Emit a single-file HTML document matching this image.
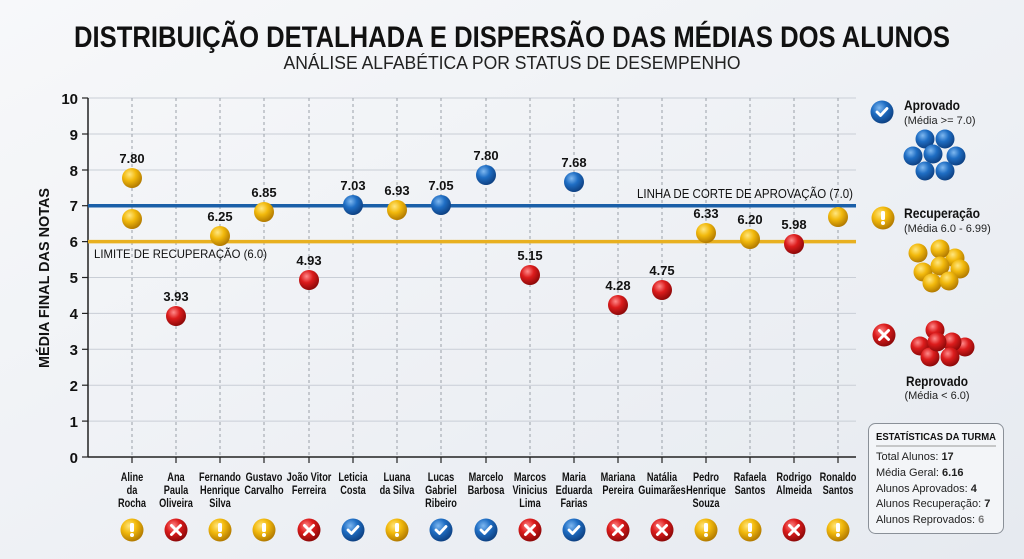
<!DOCTYPE html>
<html><head><meta charset="utf-8"><style>
html,body{margin:0;padding:0;width:1024px;height:559px;overflow:hidden;background:#eef1f5}
svg{display:block}
text{font-family:"Liberation Sans",sans-serif}
</style></head><body>
<svg width="1024" height="559" viewBox="0 0 1024 559" xmlns="http://www.w3.org/2000/svg">
<defs>
<linearGradient id="bg" x1="0" y1="0" x2="1" y2="1"><stop offset="0" stop-color="#f7f8fa"/><stop offset="1" stop-color="#e6eaf0"/></linearGradient>
<radialGradient id="gy" cx="0.38" cy="0.32" r="0.7"><stop offset="0" stop-color="#ffe680"/><stop offset="0.45" stop-color="#f2b90c"/><stop offset="1" stop-color="#b07800"/></radialGradient>
<radialGradient id="gb" cx="0.38" cy="0.32" r="0.7"><stop offset="0" stop-color="#7fb8f0"/><stop offset="0.45" stop-color="#1f6ec4"/><stop offset="1" stop-color="#0d3f80"/></radialGradient>
<radialGradient id="gr" cx="0.38" cy="0.32" r="0.7"><stop offset="0" stop-color="#ff8a8a"/><stop offset="0.45" stop-color="#dc1c1c"/><stop offset="1" stop-color="#8a0808"/></radialGradient>
<g id="iy"><circle r="11.5" fill="url(#gy)"/><rect x="-2" y="-7" width="4" height="9" rx="1.5" fill="#fff"/><circle cy="5" r="2" fill="#fff"/></g>
<g id="ir"><circle r="11.5" fill="url(#gr)"/><path d="M-4.5 -4.5L4.5 4.5M4.5 -4.5L-4.5 4.5" stroke="#fff" stroke-width="3" stroke-linecap="round"/></g>
<g id="ib"><circle r="11.5" fill="url(#gb)"/><path d="M-5 0L-1.5 3.5L5 -3.5" stroke="#fff" stroke-width="2.8" fill="none" stroke-linecap="round" stroke-linejoin="round"/></g>
</defs>
<rect width="1024" height="559" fill="url(#bg)"/>
<text x="512" y="47" text-anchor="middle" font-size="30" font-weight="bold" fill="#111" textLength="876" lengthAdjust="spacingAndGlyphs">DISTRIBUIÇÃO DETALHADA E DISPERSÃO DAS MÉDIAS DOS ALUNOS</text>
<text x="512" y="69" text-anchor="middle" font-size="18" fill="#222" textLength="457" lengthAdjust="spacingAndGlyphs">ANÁLISE ALFABÉTICA POR STATUS DE DESEMPENHO</text>
<g stroke="#c9ced6" stroke-width="1">
<line x1="88" x2="856" y1="98" y2="98"/><line x1="88" x2="856" y1="134" y2="134"/><line x1="88" x2="856" y1="170" y2="170"/><line x1="88" x2="856" y1="205.7" y2="205.7"/><line x1="88" x2="856" y1="241.6" y2="241.6"/><line x1="88" x2="856" y1="277.5" y2="277.5"/><line x1="88" x2="856" y1="313.4" y2="313.4"/><line x1="88" x2="856" y1="349.3" y2="349.3"/><line x1="88" x2="856" y1="385.2" y2="385.2"/><line x1="88" x2="856" y1="421.1" y2="421.1"/>
</g>
<g stroke="#9aa0a8" stroke-width="1" stroke-dasharray="3,3">
<line x1="132" x2="132" y1="98" y2="457"/><line x1="176" x2="176" y1="98" y2="457"/><line x1="220" x2="220" y1="98" y2="457"/><line x1="264" x2="264" y1="98" y2="457"/><line x1="309" x2="309" y1="98" y2="457"/><line x1="353" x2="353" y1="98" y2="457"/><line x1="397" x2="397" y1="98" y2="457"/><line x1="441" x2="441" y1="98" y2="457"/><line x1="486" x2="486" y1="98" y2="457"/><line x1="530" x2="530" y1="98" y2="457"/><line x1="574" x2="574" y1="98" y2="457"/><line x1="618" x2="618" y1="98" y2="457"/><line x1="662" x2="662" y1="98" y2="457"/><line x1="706" x2="706" y1="98" y2="457"/><line x1="750" x2="750" y1="98" y2="457"/><line x1="794" x2="794" y1="98" y2="457"/><line x1="838" x2="838" y1="98" y2="457"/>
</g>
<g stroke="#222" stroke-width="1.5">
<line x1="88" y1="98" x2="88" y2="457"/><line x1="88" y1="457" x2="856" y2="457"/>
</g>
<g stroke="#222" stroke-width="1.2">
<line x1="82" x2="88" y1="98" y2="98"/><line x1="82" x2="88" y1="134" y2="134"/><line x1="82" x2="88" y1="170" y2="170"/><line x1="82" x2="88" y1="205.7" y2="205.7"/><line x1="82" x2="88" y1="241.6" y2="241.6"/><line x1="82" x2="88" y1="277.5" y2="277.5"/><line x1="82" x2="88" y1="313.4" y2="313.4"/><line x1="82" x2="88" y1="349.3" y2="349.3"/><line x1="82" x2="88" y1="385.2" y2="385.2"/><line x1="82" x2="88" y1="421.1" y2="421.1"/><line x1="82" x2="88" y1="457" y2="457"/>
<line x1="132" x2="132" y1="457" y2="463"/><line x1="176" x2="176" y1="457" y2="463"/><line x1="220" x2="220" y1="457" y2="463"/><line x1="264" x2="264" y1="457" y2="463"/><line x1="309" x2="309" y1="457" y2="463"/><line x1="353" x2="353" y1="457" y2="463"/><line x1="397" x2="397" y1="457" y2="463"/><line x1="441" x2="441" y1="457" y2="463"/><line x1="486" x2="486" y1="457" y2="463"/><line x1="530" x2="530" y1="457" y2="463"/><line x1="574" x2="574" y1="457" y2="463"/><line x1="618" x2="618" y1="457" y2="463"/><line x1="662" x2="662" y1="457" y2="463"/><line x1="706" x2="706" y1="457" y2="463"/><line x1="750" x2="750" y1="457" y2="463"/><line x1="794" x2="794" y1="457" y2="463"/><line x1="838" x2="838" y1="457" y2="463"/>
</g>
<g font-size="15" font-weight="bold" fill="#111" text-anchor="end">
<text x="78" y="104">10</text><text x="78" y="140">9</text><text x="78" y="176">8</text><text x="78" y="211">7</text><text x="78" y="247">6</text><text x="78" y="283">5</text><text x="78" y="319">4</text><text x="78" y="355">3</text><text x="78" y="391">2</text><text x="78" y="427">1</text><text x="78" y="463">0</text>
</g>
<text transform="translate(49,278) rotate(-90)" text-anchor="middle" font-size="15" font-weight="bold" fill="#111" textLength="180" lengthAdjust="spacingAndGlyphs">MÉDIA FINAL DAS NOTAS</text>
<line x1="88" x2="856" y1="205.7" y2="205.7" stroke="#1a5fa8" stroke-width="3.5"/>
<line x1="88" x2="856" y1="241.6" y2="241.6" stroke="#e8b020" stroke-width="3.5"/>
<text x="853" y="198" text-anchor="end" font-size="13" fill="#111" textLength="216" lengthAdjust="spacingAndGlyphs">LINHA DE CORTE DE APROVAÇÃO (7.0)</text>
<text x="94" y="258" font-size="12" fill="#111" textLength="173" lengthAdjust="spacingAndGlyphs">LIMITE DE RECUPERAÇÃO (6.0)</text>
<g>
<circle cx="132" cy="178" r="10" fill="url(#gy)"/><circle cx="132" cy="219" r="10" fill="url(#gy)"/>
<circle cx="176" cy="316" r="10" fill="url(#gr)"/>
<circle cx="220" cy="236" r="10" fill="url(#gy)"/>
<circle cx="264" cy="212" r="10" fill="url(#gy)"/>
<circle cx="309" cy="280" r="10" fill="url(#gr)"/>
<circle cx="353" cy="205" r="10" fill="url(#gb)"/>
<circle cx="397" cy="210" r="10" fill="url(#gy)"/>
<circle cx="441" cy="205" r="10" fill="url(#gb)"/>
<circle cx="486" cy="175" r="10" fill="url(#gb)"/>
<circle cx="530" cy="275" r="10" fill="url(#gr)"/>
<circle cx="574" cy="182" r="10" fill="url(#gb)"/>
<circle cx="618" cy="305" r="10" fill="url(#gr)"/>
<circle cx="662" cy="290" r="10" fill="url(#gr)"/>
<circle cx="706" cy="233" r="10" fill="url(#gy)"/>
<circle cx="750" cy="239" r="10" fill="url(#gy)"/>
<circle cx="794" cy="244" r="10" fill="url(#gr)"/>
<circle cx="838" cy="217" r="10" fill="url(#gy)"/>
</g>
<g font-size="13" font-weight="bold" fill="#111" text-anchor="middle">
<text x="132" y="163">7.80</text><text x="176" y="301">3.93</text><text x="220" y="221">6.25</text><text x="264" y="197">6.85</text><text x="309" y="265">4.93</text><text x="353" y="190">7.03</text><text x="397" y="195">6.93</text><text x="441" y="190">7.05</text><text x="486" y="160">7.80</text><text x="530" y="260">5.15</text><text x="574" y="167">7.68</text><text x="618" y="290">4.28</text><text x="662" y="275">4.75</text><text x="706" y="218">6.33</text><text x="750" y="224">6.20</text><text x="794" y="229">5.98</text>
</g>
<g transform="scale(0.8,1)" font-size="11.5" font-weight="bold" fill="#111" text-anchor="middle">
<text x="165" y="481">Aline</text><text x="165" y="494">da</text><text x="165" y="507">Rocha</text>
<text x="220" y="481">Ana</text><text x="220" y="494">Paula</text><text x="220" y="507">Oliveira</text>
<text x="275" y="481">Fernando</text><text x="275" y="494">Henrique</text><text x="275" y="507">Silva</text>
<text x="330" y="481">Gustavo</text><text x="330" y="494">Carvalho</text>
<text x="386.25" y="481">João Vitor</text><text x="386.25" y="494">Ferreira</text>
<text x="441.25" y="481">Leticia</text><text x="441.25" y="494">Costa</text>
<text x="496.25" y="481">Luana</text><text x="496.25" y="494">da Silva</text>
<text x="551.25" y="481">Lucas</text><text x="551.25" y="494">Gabriel</text><text x="551.25" y="507">Ribeiro</text>
<text x="607.5" y="481">Marcelo</text><text x="607.5" y="494">Barbosa</text>
<text x="662.5" y="481">Marcos</text><text x="662.5" y="494">Vinicius</text><text x="662.5" y="507">Lima</text>
<text x="717.5" y="481">Maria</text><text x="717.5" y="494">Eduarda</text><text x="717.5" y="507">Farias</text>
<text x="772.5" y="481">Mariana</text><text x="772.5" y="494">Pereira</text>
<text x="827.5" y="481">Natália</text><text x="827.5" y="494">Guimarães</text>
<text x="882.5" y="481">Pedro</text><text x="882.5" y="494">Henrique</text><text x="882.5" y="507">Souza</text>
<text x="937.5" y="481">Rafaela</text><text x="937.5" y="494">Santos</text>
<text x="992.5" y="481">Rodrigo</text><text x="992.5" y="494">Almeida</text>
<text x="1047.5" y="481">Ronaldo</text><text x="1047.5" y="494">Santos</text>
</g>
<use href="#iy" x="132" y="530"/><use href="#ir" x="176" y="530"/><use href="#iy" x="220" y="530"/><use href="#iy" x="264" y="530"/><use href="#ir" x="309" y="530"/><use href="#ib" x="353" y="530"/><use href="#iy" x="397" y="530"/><use href="#ib" x="441" y="530"/><use href="#ib" x="486" y="530"/><use href="#ir" x="530" y="530"/><use href="#ib" x="574" y="530"/><use href="#ir" x="618" y="530"/><use href="#ir" x="662" y="530"/><use href="#iy" x="706" y="530"/><use href="#iy" x="750" y="530"/><use href="#ir" x="794" y="530"/><use href="#iy" x="838" y="530"/>
<use href="#ib" x="882" y="112"/>
<text x="904" y="110" font-size="14" font-weight="bold" fill="#111" textLength="56" lengthAdjust="spacingAndGlyphs">Aprovado</text>
<text x="904" y="124" font-size="11" fill="#222">(Média &gt;= 7.0)</text>
<g>
<circle cx="925" cy="139" r="9.5" fill="url(#gb)"/><circle cx="945" cy="139" r="9.5" fill="url(#gb)"/>
<circle cx="913" cy="156" r="9.5" fill="url(#gb)"/><circle cx="956" cy="156" r="9.5" fill="url(#gb)"/><circle cx="933" cy="154" r="9.5" fill="url(#gb)"/>
<circle cx="925" cy="171" r="9.5" fill="url(#gb)"/><circle cx="945" cy="171" r="9.5" fill="url(#gb)"/>
</g>
<use href="#iy" x="883" y="218"/>
<text x="904" y="218" font-size="14" font-weight="bold" fill="#111" textLength="76" lengthAdjust="spacingAndGlyphs">Recuperação</text>
<text x="904" y="232" font-size="11" fill="#222">(Média 6.0 - 6.99)</text>
<g>
<circle cx="955" cy="258" r="9.5" fill="url(#gy)"/><circle cx="918" cy="253" r="9.5" fill="url(#gy)"/><circle cx="940" cy="249" r="9.5" fill="url(#gy)"/>
<circle cx="923" cy="272" r="9.5" fill="url(#gy)"/><circle cx="960" cy="269" r="9.5" fill="url(#gy)"/><circle cx="940" cy="266" r="9.5" fill="url(#gy)"/>
<circle cx="932" cy="283" r="9.5" fill="url(#gy)"/><circle cx="949" cy="281" r="9.5" fill="url(#gy)"/>
</g>
<use href="#ir" x="884" y="335"/>
<g>
<circle cx="935" cy="330" r="9.5" fill="url(#gr)"/><circle cx="965" cy="347" r="9.5" fill="url(#gr)"/><circle cx="920" cy="346" r="9.5" fill="url(#gr)"/>
<circle cx="952" cy="342" r="9.5" fill="url(#gr)"/><circle cx="930" cy="357" r="9.5" fill="url(#gr)"/><circle cx="950" cy="357" r="9.5" fill="url(#gr)"/><circle cx="937" cy="342" r="9.5" fill="url(#gr)"/>
</g>
<text x="937" y="386" text-anchor="middle" font-size="14" font-weight="bold" fill="#111" textLength="62" lengthAdjust="spacingAndGlyphs">Reprovado</text>
<text x="937" y="399" text-anchor="middle" font-size="11" fill="#222">(Média &lt; 6.0)</text>
<rect x="868.5" y="423.5" width="135" height="110" rx="7" fill="#f3f5f8" stroke="#8a9098" stroke-width="1"/>
<text x="876" y="440" font-size="10.5" font-weight="bold" fill="#111" textLength="120" lengthAdjust="spacingAndGlyphs">ESTATÍSTICAS DA TURMA</text>
<line x1="876" x2="996" y1="446" y2="446" stroke="#999"/>
<g font-size="11" fill="#222">
<text x="876" y="460">Total Alunos: <tspan font-weight="bold">17</tspan></text>
<text x="876" y="476">Média Geral: <tspan font-weight="bold">6.16</tspan></text>
<text x="876" y="492">Alunos Aprovados: <tspan font-weight="bold">4</tspan></text>
<text x="876" y="507">Alunos Recuperação: <tspan font-weight="bold">7</tspan></text>
<text x="876" y="523">Alunos Reprovados: <tspan font-weight="bold" fill="#777">6</tspan></text>
</g>
</svg>
</body></html>
